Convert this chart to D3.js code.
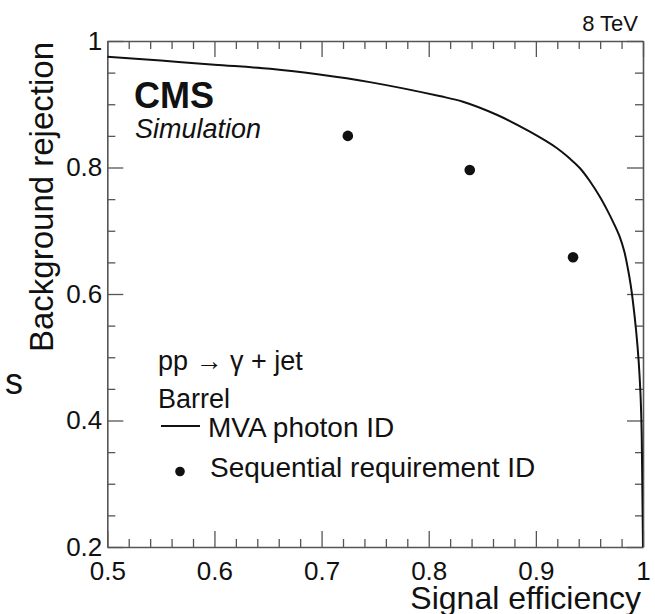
<!DOCTYPE html>
<html>
<head>
<meta charset="utf-8">
<script src="https://cdn.jsdelivr.net/npm/d3@7"></script>
<style>
  html, body { margin: 0; padding: 0; background: #fff; }
  svg { display: block; }
  text { font-family: "Liberation Sans", Arial, Helvetica, sans-serif; fill: #111; }
</style>
</head>
<body>
<svg id="chart" width="655" height="614"></svg>
<script>
// ---- data ----
const xMajorTicks = [0.5, 0.6, 0.7, 0.8, 0.9, 1.0];
const yMajorTicks = [0.2, 0.4, 0.6, 0.8, 1.0];
const xMinorStep = 0.02;
const yMinorStep = 0.05;

// MVA photon ID ROC curve (signal efficiency, background rejection)
const mvaEff = [0.500, 0.550, 0.600, 0.652, 0.698, 0.745, 0.810, 0.832, 0.864, 0.894, 0.9195, 0.9316, 0.9410, 0.9503, 0.9596, 0.9661, 0.9726, 0.9783, 0.9825, 0.9860, 0.9885, 0.9904, 0.9937, 0.9960, 0.9977, 0.9988, 0.9994, 1.000];
const mvaRej = [0.975, 0.969, 0.9625, 0.956, 0.947, 0.935, 0.913, 0.904, 0.883, 0.857, 0.8308, 0.8142, 0.7992, 0.7787, 0.7542, 0.7342, 0.7121, 0.6903, 0.6675, 0.6392, 0.6144, 0.5907, 0.5399, 0.4925, 0.4403, 0.3771, 0.2901, 0.200];

// Sequential requirement ID working points
const seqEff = [0.7245, 0.8383, 0.9347];
const seqRej = [0.850, 0.796, 0.658];

const xTitle = "Signal efficiency";
const yTitle = "Background rejection";
const legendLines = ["pp \u2192 \u03B3 + jet", "Barrel"];
const legendMva = "MVA photon ID";
const legendSeq = "Sequential requirement ID";

// ---- layout ----
const L = 107.3, R = 643, T = 41, B = 547;
const svg = d3.select("#chart");
const x = d3.scaleLinear().domain([0.5, 1.0]).range([L, R]);
const y = d3.scaleLinear().domain([0.2, 1.0]).range([B, T]);

const xMinor = d3.range(0.5, 1.0001, xMinorStep).filter(v => !xMajorTicks.some(m => Math.abs(m - v) < 1e-6));
const yMinor = d3.range(0.2, 1.0001, yMinorStep).filter(v => !yMajorTicks.some(m => Math.abs(m - v) < 1e-6));
const fmt = d => (Math.abs(d - 1) < 1e-9 ? "1" : d3.format(".1f")(d));

const frameColor = "#555";
const MAJ = 16, MIN = 8;

function styleAxis(g, hideDomain) {
  g.selectAll(".tick line").attr("stroke", frameColor).attr("stroke-width", 1.3);
  g.select(".domain").attr("stroke", hideDomain ? "none" : frameColor).attr("stroke-width", 1.6);
  g.selectAll("text").attr("font-size", 26).attr("fill", "#111")
    .attr("font-family", '"Liberation Sans", Arial, Helvetica, sans-serif');
}

// bottom major with labels
svg.append("g").attr("transform", `translate(0,${B})`)
  .call(d3.axisBottom(x).tickValues(xMajorTicks).tickFormat(fmt).tickSizeInner(-MAJ).tickSizeOuter(0).tickPadding(14.5))
  .call(g => styleAxis(g, false));
svg.append("g").attr("transform", `translate(0,${B})`)
  .call(d3.axisBottom(x).tickValues(xMinor).tickFormat("").tickSizeInner(-MIN).tickSizeOuter(0))
  .call(g => styleAxis(g, true));
// top
svg.append("g").attr("transform", `translate(0,${T})`)
  .call(d3.axisTop(x).tickValues(xMajorTicks).tickFormat("").tickSizeInner(-MAJ).tickSizeOuter(0))
  .call(g => styleAxis(g, false));
svg.append("g").attr("transform", `translate(0,${T})`)
  .call(d3.axisTop(x).tickValues(xMinor).tickFormat("").tickSizeInner(-MIN).tickSizeOuter(0))
  .call(g => styleAxis(g, true));
// left
svg.append("g").attr("transform", `translate(${L},0)`)
  .call(d3.axisLeft(y).tickValues(yMajorTicks).tickFormat(fmt).tickSizeInner(-MAJ).tickSizeOuter(0).tickPadding(5))
  .call(g => styleAxis(g, false));
svg.append("g").attr("transform", `translate(${L},0)`)
  .call(d3.axisLeft(y).tickValues(yMinor).tickFormat("").tickSizeInner(-MIN).tickSizeOuter(0))
  .call(g => styleAxis(g, true));
// right
svg.append("g").attr("transform", `translate(${R},0)`)
  .call(d3.axisRight(y).tickValues(yMajorTicks).tickFormat("").tickSizeInner(-MAJ).tickSizeOuter(0))
  .call(g => styleAxis(g, false));
svg.append("g").attr("transform", `translate(${R},0)`)
  .call(d3.axisRight(y).tickValues(yMinor).tickFormat("").tickSizeInner(-MIN).tickSizeOuter(0))
  .call(g => styleAxis(g, true));

// clip
svg.append("clipPath").attr("id", "plotclip")
  .append("rect").attr("x", L).attr("y", T).attr("width", R - L).attr("height", B - T);

// MVA curve
const mvaData = mvaEff.map((e, i) => [e, mvaRej[i]]);
svg.append("path")
  .datum(mvaData)
  .attr("clip-path", "url(#plotclip)")
  .attr("fill", "none")
  .attr("stroke", "#111")
  .attr("stroke-width", 2)
  .attr("stroke-linejoin", "round")
  .attr("d", d3.line().x(d => x(d[0])).y(d => y(d[1])).curve(d3.curveCatmullRom.alpha(0.5)));

// sequential points
const seqData = seqEff.map((e, i) => [e, seqRej[i]]);
svg.append("g").selectAll("circle").data(seqData).join("circle")
  .attr("cx", d => x(d[0])).attr("cy", d => y(d[1])).attr("r", 5.3).attr("fill", "#111");

// axis titles
svg.append("text").attr("x", 641).attr("y", 609).attr("text-anchor", "end")
  .attr("font-size", 32).text(xTitle);
svg.append("text").attr("transform", "translate(53,42) rotate(-90)").attr("text-anchor", "end")
  .attr("font-size", 33).text(yTitle);

// energy label
svg.append("text").attr("x", 638).attr("y", 31).attr("text-anchor", "end")
  .attr("font-size", 22).text("8 TeV");

// fragment of slide text at the left edge
svg.append("text").attr("x", 5).attr("y", 394).attr("font-size", 36)
  .attr("font-family", '"Open Sans", "DejaVu Sans", sans-serif').text("s");

// CMS labels
svg.append("text").attr("x", 134).attr("y", 108).attr("font-size", 36).attr("font-weight", "bold").text("CMS");
svg.append("text").attr("x", 135).attr("y", 138).attr("font-size", 27).attr("font-style", "italic").text("Simulation");

// legend
svg.append("text").attr("x", 158).attr("y", 370).attr("font-size", 27).text(legendLines[0]);
svg.append("text").attr("x", 158).attr("y", 408).attr("font-size", 27).text(legendLines[1]);
svg.append("line").attr("x1", 161).attr("x2", 200).attr("y1", 426).attr("y2", 426)
  .attr("stroke", "#111").attr("stroke-width", 2);
svg.append("text").attr("x", 208).attr("y", 437).attr("font-size", 28).text(legendMva);
svg.append("circle").attr("cx", 180).attr("cy", 471.5).attr("r", 4.8).attr("fill", "#111");
svg.append("text").attr("x", 210).attr("y", 477).attr("font-size", 28).text(legendSeq);
</script>
</body>
</html>
